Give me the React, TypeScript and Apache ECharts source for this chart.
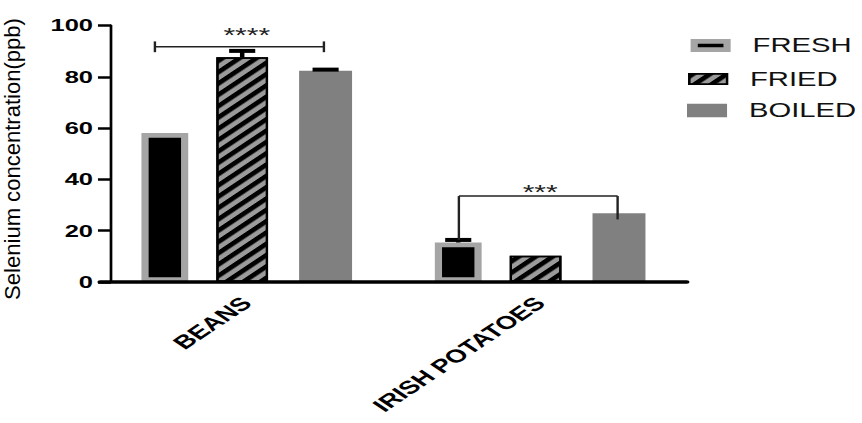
import React, { useEffect, useRef } from 'react';
import * as echarts from 'echarts';

// ---- data ----
const categories = ['BEANS', 'IRISH POTATOES'];
const seriesNames = ['FRESH', 'FRIED', 'BOILED'];
const freshMeans = [58.1, 15.4];
const friedMeans = [87.6, 10.2];
const boiledMeans = [82.4, 26.8];
const freshErr = [0, 1.0];
const friedErr = [2.5, 0];
const boiledErr = [0.4, 0];
const yMin = 0;
const yMax = 100;
const yInterval = 20;
// significance brackets (category, left/right offset as fraction of band, values)
const bracketCats = [0, 1];
const bracketLeft = [-0.313, -0.277];
const bracketRight = [0.263, 0.264];
const bracketLineY = [91.7, 33.5];
const bracketLegTop = [93.8, 33.5];
const bracketLeftEnd = [89.6, 16.4];
const bracketRightEnd = [89.6, 24.4];
const bracketStarsY = [96.2, 35.3];
const bracketStars = ['****', '***'];
const yAxisTitle = 'Selenium concentration(ppb)';

// ---- layout (compressed frame, stretched horizontally by CSS) ----
const STRETCH = 1.5;
const W = 575;
const H = 423;
const barWidths = [31.2, 34.5, 35.3];
const gapPct = 0.6;

function barOffsets(): number[] {
  let sum = 0;
  barWidths.forEach((w) => (sum += w * (1 + gapPct)));
  sum -= barWidths[barWidths.length - 1] * gapPct;
  let off = -sum / 2;
  const res: number[] = [];
  barWidths.forEach((w) => {
    res.push(off + w / 2);
    off += w * (1 + gapPct);
  });
  return res;
}

const FONT = '"Liberation Sans", Arial, Helvetica, sans-serif';

export default function App() {
  const ref = useRef<HTMLDivElement>(null);
  useEffect(() => {
    if (!ref.current) return;
    const chart = echarts.init(ref.current, undefined, { renderer: 'svg' });
    const offsets = barOffsets();
    const means = [freshMeans, friedMeans, boiledMeans];
    const errs = [freshErr, friedErr, boiledErr];
    const errData: number[][] = [];
    for (let s = 0; s < 3; s++) {
      for (let c = 0; c < categories.length; c++) {
        if (errs[s][c] > 0) errData.push([c, means[s][c], errs[s][c], s]);
      }
    }
    const bracketData = bracketCats.map((c, i) => [
      c,
      bracketLeft[i],
      bracketRight[i],
      bracketLineY[i],
      bracketLegTop[i],
      bracketLeftEnd[i],
      bracketRightEnd[i],
      bracketStarsY[i],
    ]);

    const legendStyles = [
      { iw: 21.9, ih: 8.2, left: 460.4, top: 35.5, pad: 12, style: { color: '#000', borderColor: '#a5a5a5', borderWidth: 4.8 } },
      { iw: 25.2, ih: 10.5, left: 458.75, top: 69, pad: 10.3, style: { borderColor: '#000', borderWidth: 1.5 } },
      { iw: 26.7, ih: 13.7, left: 458, top: 100.5, pad: 9.6, style: { borderWidth: 0 } },
    ];

    const option: any = {
      animation: false,
      backgroundColor: '#fff',
      grid: { left: 66.7, width: 391.2, top: 25.5, height: 256.5, containLabel: false },
      legend: seriesNames.map((n, i) => ({
        orient: 'vertical',
        left: legendStyles[i].left,
        top: legendStyles[i].top,
        padding: 0,
        icon: 'rect',
        itemWidth: legendStyles[i].iw,
        itemHeight: legendStyles[i].ih,
        selectedMode: false,
        data: [{ name: n, itemStyle: legendStyles[i].style }],
        textStyle: {
          fontFamily: FONT,
          fontSize: 19.5,
          color: '#111',
          padding: [0, 0, 0, legendStyles[i].pad],
        },
      })),
      xAxis: {
        type: 'category',
        data: categories,
        z: 10,
        axisLine: { lineStyle: { color: '#000', width: 3.5 } },
        axisTick: { alignWithLabel: true, length: 7, lineStyle: { color: '#000', width: 2 } },
        axisLabel: {
          rotate: 45,
          interval: 0,
          margin: 18,
          fontFamily: FONT,
          fontWeight: 'bold',
          fontSize: 18.5,
          color: '#000',
        },
        splitLine: { show: false },
      },
      yAxis: {
        type: 'value',
        min: yMin,
        max: yMax,
        interval: yInterval,
        offset: -7.3,
        z: 10,
        axisLine: { show: true, lineStyle: { color: '#000', width: 1.8 } },
        axisTick: { show: true, length: 8.7, lineStyle: { color: '#000', width: 2.5 } },
        axisLabel: {
          margin: 12,
          fontFamily: FONT,
          fontWeight: 'bold',
          fontSize: 17,
          color: '#000',
        },
        splitLine: { show: false },
      },
      graphic: [
        {
          type: 'text',
          x: 8.3,
          y: 159,
          rotation: Math.PI / 2,
          scaleX: 1.47,
          style: {
            text: yAxisTitle,
            font: '15px ' + FONT,
            fill: '#000',
            align: 'center',
            verticalAlign: 'middle',
          },
        },
      ],
      series: [
        {
          name: seriesNames[0],
          type: 'bar',
          data: freshMeans,
          barWidth: barWidths[0],
          barGap: gapPct * 100 + '%',
          itemStyle: { color: '#000', borderColor: '#a5a5a5', borderWidth: 4.8 },
        },
        {
          name: seriesNames[1],
          type: 'bar',
          data: friedMeans,
          barWidth: barWidths[1],
          barGap: gapPct * 100 + '%',
          itemStyle: {
            color: '#9b9b9b',
            borderColor: '#000',
            borderWidth: 1.5,
            decal: {
              symbol: 'rect',
              symbolSize: 1,
              dashArrayX: [1, 0],
              dashArrayY: [3.9, 3.9],
              rotation: -Math.PI / 4,
              color: '#000',
            },
          },
        },
        {
          name: seriesNames[2],
          type: 'bar',
          data: boiledMeans,
          barWidth: barWidths[2],
          barGap: gapPct * 100 + '%',
          itemStyle: { color: '#808080', borderWidth: 0 },
        },
        {
          type: 'custom',
          data: errData,
          encode: { x: 0, y: 1 },
          z: 5,
          renderItem: (params: any, api: any) => {
            const c = api.value(0);
            const m = api.value(1);
            const e = api.value(2);
            const s = api.value(3);
            const base = api.coord([c, m]);
            const top = api.coord([c, m + e]);
            const x = base[0] + offsets[s];
            return {
              type: 'group',
              children: [
                { type: 'line', shape: { x1: x, y1: base[1], x2: x, y2: top[1] }, style: { stroke: '#000', lineWidth: 3 } },
                { type: 'line', shape: { x1: x - 8.7, y1: top[1], x2: x + 8.7, y2: top[1] }, style: { stroke: '#000', lineWidth: 4 } },
              ],
            };
          },
        },
        {
          type: 'custom',
          data: bracketData,
          encode: { x: 0, y: 3 },
          z: 6,
          renderItem: (params: any, api: any) => {
            const c = api.value(0);
            const bw = api.size([1, 0])[0];
            const center = api.coord([c, api.value(3)]);
            const xl = center[0] + api.value(1) * bw;
            const xr = center[0] + api.value(2) * bw;
            const yLine = center[1];
            const yLegTop = api.coord([c, api.value(4)])[1];
            const yl = api.coord([c, api.value(5)])[1];
            const yr = api.coord([c, api.value(6)])[1];
            const ys = api.coord([c, api.value(7)])[1];
            const st = { stroke: '#222', lineWidth: 1.6 };
            return {
              type: 'group',
              children: [
                { type: 'line', shape: { x1: xl, y1: yLine, x2: xr, y2: yLine }, style: st },
                { type: 'line', shape: { x1: xl, y1: yLegTop, x2: xl, y2: yl }, style: st },
                { type: 'line', shape: { x1: xr, y1: yLegTop, x2: xr, y2: yr }, style: st },
                {
                  type: 'text',
                  x: center[0],
                  y: ys,
                  style: {
                    text: bracketStars[params.dataIndex],
                    font: '20px ' + FONT,
                    fill: '#222',
                    align: 'center',
                    verticalAlign: 'middle',
                  },
                },
              ],
            };
          },
        },
      ],
    };
    chart.setOption(option);
    return () => chart.dispose();
  }, []);

  return (
    <div style={{ position: 'fixed', left: 0, top: 0, width: 862, height: H, overflow: 'hidden', background: '#fff' }}>
      <div
        ref={ref}
        style={{ width: W, height: H, transform: `scaleX(${STRETCH})`, transformOrigin: '0 0' }}
      />
    </div>
  );
}
